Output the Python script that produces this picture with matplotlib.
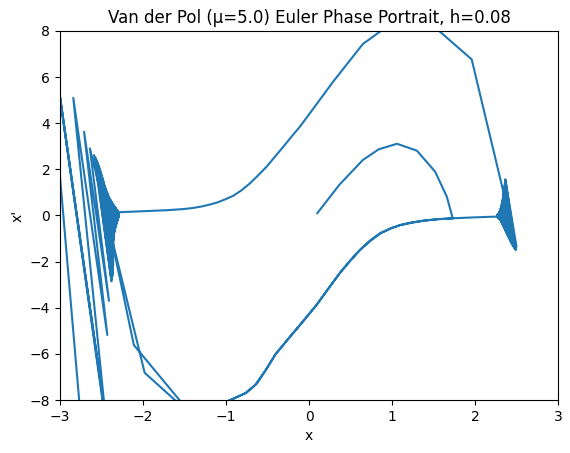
import matplotlib
matplotlib.use("Agg")
import matplotlib.pyplot as plt

# --- data ---
# initial arc from the starting point
arc_x = [0.10, 0.37, 0.65, 0.84, 1.06, 1.30, 1.52, 1.66, 1.73]
arc_y = [0.10, 1.35, 2.41, 2.87, 3.11, 2.81, 1.90, 0.82, -0.10]

# lower branch, first pass (right -> left, leaving frame at bottom)
lower1_x = [1.74, 1.55, 1.38, 1.24, 1.10, 0.98, 0.855, 0.73, 0.61, 0.49, 0.37, 0.23,
            0.09, -0.07, -0.23, -0.41, -0.53, -0.65, -0.77, -0.93, -1.40]
lower1_y = [-0.12, -0.16, -0.22, -0.30, -0.41, -0.56, -0.77, -1.10, -1.50, -1.98, -2.50, -3.18,
            -3.88, -4.58, -5.26, -6.05, -6.75, -7.35, -7.71, -7.97, -8.70]

# re-entry step towards the left cluster, first pass
entryA_x = [-2.11]
entryA_y = [-5.62]

# left cluster, decaying oscillation (peaks and troughs)
lh_x = [-2.59, -2.575, -2.56, -2.548, -2.537, -2.527, -2.517, -2.508, -2.50, -2.492,
        -2.484, -2.477, -2.47, -2.462, -2.455, -2.448, -2.44, -2.432, -2.425, -2.418,
        -2.41, -2.402, -2.394, -2.386, -2.378, -2.371, -2.364, -2.357, -2.35, -2.344,
        -2.338, -2.333, -2.328, -2.324, -2.32, -2.316, -2.313, -2.31, -2.307, -2.305]
lh_y = [2.62, 2.52, 2.41, 2.30, 2.19, 2.08, 1.97, 1.86, 1.76, 1.66,
        1.56, 1.47, 1.38, 1.29, 1.21, 1.13, 1.06, 0.99, 0.92, 0.86,
        0.80, 0.74, 0.69, 0.64, 0.59, 0.55, 0.51, 0.47, 0.43, 0.40,
        0.37, 0.34, 0.31, 0.29, 0.27, 0.25, 0.23, 0.21, 0.19, 0.18]
ll_x = [-2.380, -2.373, -2.367, -2.364, -2.362, -2.361, -2.359, -2.359, -2.359, -2.359,
        -2.359, -2.359, -2.360, -2.359, -2.358, -2.358, -2.355, -2.353, -2.351, -2.349,
        -2.346, -2.343, -2.339, -2.335, -2.331, -2.327, -2.323, -2.319, -2.316, -2.312,
        -2.308, -2.306, -2.303, -2.301, -2.298, -2.296, -2.295, -2.293, -2.292, -2.291]
ll_y = [-2.85, -2.74, -2.62, -2.50, -2.38, -2.26, -2.14, -2.02, -1.90, -1.79,
        -1.68, -1.57, -1.46, -1.36, -1.26, -1.17, -1.08, -1.00, -0.92, -0.84,
        -0.77, -0.70, -0.64, -0.58, -0.52, -0.46, -0.41, -0.36, -0.32, -0.28,
        -0.24, -0.20, -0.17, -0.14, -0.11, -0.09, -0.07, -0.05, -0.03, -0.02]

# upper branch (left slow part and jump over the top)
up_x = [-2.30, -1.92, -1.71, -1.51, -1.41, -1.31, -1.21, -1.11, -1.01, -0.91, -0.81,
        -0.71, -0.61, -0.51, -0.41, -0.31, -0.21, -0.11, 0.01, 0.29, 0.65, 1.25, 1.96]
up_y = [0.14, 0.20, 0.23, 0.28, 0.32, 0.38, 0.46, 0.56, 0.70, 0.86, 1.10,
        1.40, 1.75, 2.12, 2.55, 2.98, 3.42, 3.85, 4.43, 5.80, 7.44, 9.00, 6.77]

# landing point of the right cluster
land_x = [2.50]
land_y = [-1.35]

# right cluster, decaying oscillation (peaks and troughs)
rh_x = [2.365, 2.362, 2.360, 2.357, 2.355, 2.352, 2.350, 2.347, 2.345, 2.342,
        2.340, 2.337, 2.335, 2.332, 2.330, 2.327, 2.325, 2.322, 2.320, 2.317,
        2.315, 2.312, 2.310, 2.307, 2.305, 2.302, 2.300, 2.297, 2.295, 2.292,
        2.290, 2.287, 2.285, 2.282, 2.280, 2.277, 2.275, 2.272, 2.270, 2.267]
rh_y = [1.57, 1.49, 1.41, 1.33, 1.25, 1.18, 1.11, 1.04, 0.97, 0.91,
        0.85, 0.79, 0.73, 0.68, 0.63, 0.58, 0.53, 0.49, 0.45, 0.41,
        0.37, 0.34, 0.31, 0.28, 0.25, 0.22, 0.20, 0.18, 0.16, 0.14,
        0.12, 0.10, 0.09, 0.08, 0.07, 0.06, 0.05, 0.04, 0.03, 0.02]
rl_x = [2.491, 2.481, 2.473, 2.463, 2.455, 2.446, 2.439, 2.430, 2.423, 2.415,
        2.408, 2.400, 2.393, 2.386, 2.380, 2.373, 2.367, 2.361, 2.356, 2.350,
        2.345, 2.339, 2.335, 2.329, 2.325, 2.320, 2.316, 2.311, 2.308, 2.303,
        2.300, 2.295, 2.292, 2.288, 2.286, 2.282, 2.279, 2.275, 2.272, 2.269]
rl_y = [-1.50, -1.45, -1.40, -1.35, -1.30, -1.24, -1.19, -1.13, -1.08, -1.02,
        -0.97, -0.91, -0.86, -0.81, -0.76, -0.71, -0.66, -0.61, -0.57, -0.52,
        -0.48, -0.44, -0.40, -0.36, -0.33, -0.30, -0.27, -0.24, -0.22, -0.20,
        -0.18, -0.16, -0.14, -0.12, -0.11, -0.10, -0.09, -0.08, -0.07, -0.06]

# right slow branch
slow_x = [2.24, 2.00]
slow_y = [-0.05, -0.08]

# lower branch, second pass
lower2_x = [1.74, 1.55, 1.38, 1.24, 1.10, 0.98, 0.86, 0.74, 0.62, 0.50, 0.38, 0.24,
            0.10, -0.06, -0.22, -0.40, -0.52, -0.63, -0.75, -0.92, -1.40]
lower2_y = [-0.12, -0.16, -0.23, -0.31, -0.42, -0.57, -0.78, -1.10, -1.48, -1.95, -2.46, -3.14,
            -3.84, -4.54, -5.22, -6.00, -6.70, -7.30, -7.68, -7.96, -8.70]

# re-entry, second pass
entryB_x = [-1.98]
entryB_y = [-6.82]

# growing (diverging) oscillation at the left
div_x = [-2.64, -2.41, -2.71, -2.43, -2.84, -2.43, -3.19, -2.39, -3.21, -2.50]
div_y = [2.91, -3.70, 3.63, -5.18, 5.10, -9.50, 9.96, -10.30, 10.50, -19.30]

# --- assemble trajectory ---
def zigzag(hx, hy, lx, ly):
    xs, ys = [], []
    for a, b, c, d in zip(hx, hy, lx, ly):
        xs += [a, c]
        ys += [b, d]
    return xs, ys

lzx, lzy = zigzag(lh_x, lh_y, ll_x, ll_y)
rzx, rzy = zigzag(rh_x, rh_y, rl_x, rl_y)

xs = (arc_x + lower1_x + entryA_x + lzx + up_x + land_x + rzx + slow_x
      + lower2_x + entryB_x + div_x)
ys = (arc_y + lower1_y + entryA_y + lzy + up_y + land_y + rzy + slow_y
      + lower2_y + entryB_y + div_y)

fig = plt.figure(figsize=(5.7, 4.53), dpi=100)
ax = fig.add_axes([60 / 570, 53 / 453, 498 / 570, 369 / 453])
ax.plot(xs, ys, color="#1f77b4", linewidth=1.5)
ax.set_xlim(-3, 3)
ax.set_ylim(-8, 8)
ax.set_xlabel("x")
ax.set_ylabel("x'")
ax.set_title("Van der Pol (μ=5.0) Euler Phase Portrait, h=0.08")
fig.savefig("out.png", dpi=100)
